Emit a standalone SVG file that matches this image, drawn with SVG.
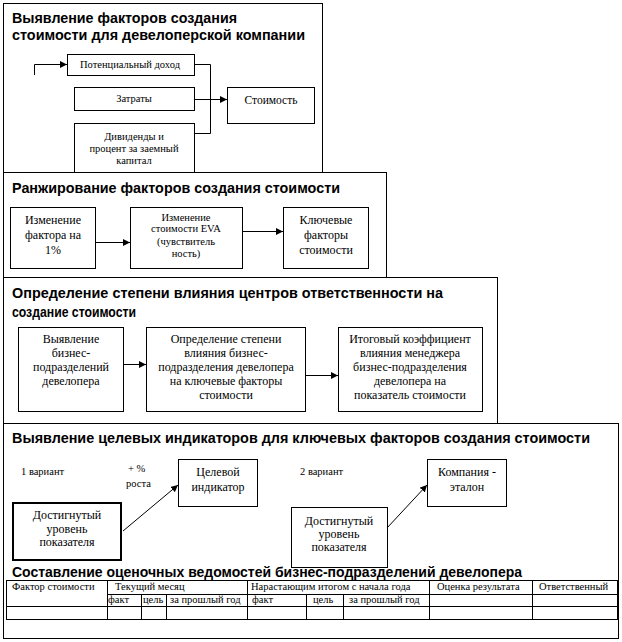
<svg xmlns="http://www.w3.org/2000/svg" width="622" height="642" viewBox="0 0 622 642">
<style>
.fr{fill:#fff;stroke:#000;stroke-width:1}
.bx{fill:#fff;stroke:#000;stroke-width:1}
.ln{fill:none;stroke:#000;stroke-width:1}
.h{font-family:"Liberation Sans","DejaVu Sans",sans-serif;font-weight:bold;font-size:14px;fill:#000}
.t{font-family:"Liberation Serif","DejaVu Serif",serif;font-size:12px;fill:#000;text-anchor:middle}
.s{font-family:"Liberation Serif","DejaVu Serif",serif;font-size:10.5px;fill:#000}
.sm{font-family:"Liberation Serif","DejaVu Serif",serif;font-size:10.5px;fill:#000;text-anchor:middle}
</style>
<defs>
<marker id="ah" markerUnits="userSpaceOnUse" markerWidth="8" markerHeight="7" refX="7" refY="3.5" orient="auto">
<path d="M0,0 L7,3.5 L0,7 z" fill="#000"/>
</marker>
</defs>
<rect width="622" height="642" fill="#fff"/>

<g id="section1">
<rect class="fr" x="3.5" y="3.5" width="319" height="169"/>
<text class="h" x="12" y="23" textLength="225" lengthAdjust="spacingAndGlyphs">Выявление факторов создания</text>
<text class="h" x="12" y="40" textLength="293" lengthAdjust="spacingAndGlyphs">стоимости для девелоперской компании</text>
</g>
<g id="n-potential">
<rect class="bx" x="67.5" y="54.5" width="127" height="21"/>
<text class="sm" x="130" y="68">Потенциальный доход</text>
</g>
<g id="n-costs">
<rect class="bx" x="74.5" y="87.5" width="120" height="23"/>
<text class="sm" x="134" y="102">Затраты</text>
</g>
<g id="n-dividends">
<rect class="bx" x="74.5" y="123.5" width="120" height="52"/>
<text class="sm" x="134" y="140">Дивиденды и</text>
<text class="sm" x="134" y="152">процент за заемный</text>
<text class="sm" x="134" y="164">капитал</text>
</g>
<g id="n-value">
<rect class="bx" x="227.5" y="87.5" width="87" height="36"/>
<text class="t" x="271" y="104" style="font-size:11.5px">Стоимость</text>
</g>

<g id="section2">
<rect class="fr" x="3.5" y="172.5" width="383" height="105"/>
<text class="h" x="12" y="193" textLength="328" lengthAdjust="spacingAndGlyphs">Ранжирование факторов создания стоимости</text>
</g>
<g id="n-change1">
<rect class="bx" x="10.5" y="207.5" width="85" height="61"/>
<text class="t" x="53" y="224">Изменение</text>
<text class="t" x="53" y="239">фактора на</text>
<text class="t" x="53" y="254">1%</text>
</g>
<g id="n-eva">
<rect class="bx" x="130.5" y="207.5" width="112" height="61"/>
<text class="sm" x="186" y="221">Изменение</text>
<text class="sm" x="186" y="232">стоимости EVA</text>
<text class="sm" x="186" y="245">(чувствитель</text>
<text class="sm" x="186" y="257">ность)</text>
</g>
<g id="n-key">
<rect class="bx" x="283.5" y="207.5" width="85" height="61"/>
<text class="t" x="326" y="224">Ключевые</text>
<text class="t" x="326" y="239">факторы</text>
<text class="t" x="326" y="254">стоимости</text>
</g>

<g id="section3">
<rect class="fr" x="3.5" y="277.5" width="494" height="146"/>
<text class="h" x="12" y="298" textLength="431" lengthAdjust="spacingAndGlyphs">Определение степени влияния центров ответственности на</text>
<text class="h" x="12" y="317" textLength="124" lengthAdjust="spacingAndGlyphs">создание стоимости</text>
</g>
<g id="n-identify">
<rect class="bx" x="18.5" y="327.5" width="105" height="84"/>
<text class="t" x="71" y="343">Выявление</text>
<text class="t" x="71" y="357">бизнес-</text>
<text class="t" x="71" y="371">подразделений</text>
<text class="t" x="71" y="385">девелопера</text>
</g>
<g id="n-degree">
<rect class="bx" x="146.5" y="327.5" width="159" height="84"/>
<text class="t" x="226" y="343">Определение степени</text>
<text class="t" x="226" y="357">влияния бизнес-</text>
<text class="t" x="226" y="371">подразделения девелопера</text>
<text class="t" x="226" y="385">на ключевые факторы</text>
<text class="t" x="226" y="399">стоимости</text>
</g>
<g id="n-coef">
<rect class="bx" x="338.5" y="327.5" width="144" height="84"/>
<text class="t" x="410" y="343">Итоговый коэффициент</text>
<text class="t" x="410" y="357">влияния менеджера</text>
<text class="t" x="410" y="371">бизнес-подразделения</text>
<text class="t" x="410" y="385">девелопера  на</text>
<text class="t" x="410" y="399">показатель стоимости</text>
</g>

<g id="section4">
<rect class="fr" x="3.5" y="423.5" width="615" height="215"/>
<text class="h" x="12" y="443" textLength="578" lengthAdjust="spacingAndGlyphs">Выявление целевых индикаторов для ключевых факторов создания стоимости</text>
<text class="s" x="21" y="475">1 вариант</text>
<text class="s" x="128" y="472">+ %</text>
<text class="s" x="126" y="487">роста</text>
<text class="s" x="300" y="475">2 вариант</text>
</g>
<g id="n-target">
<rect class="bx" x="178.5" y="459.5" width="79" height="47"/>
<text class="t" x="218" y="476">Целевой</text>
<text class="t" x="218" y="491">индикатор</text>
</g>
<g id="n-benchmark">
<rect class="bx" x="427.5" y="459.5" width="79" height="47"/>
<text class="t" x="467" y="476">Компания -</text>
<text class="t" x="467" y="491">эталон</text>
</g>
<g id="n-achieved1">
<rect class="bx" x="13" y="503" width="108" height="57" style="stroke-width:2"/>
<text class="t" x="67" y="519">Достигнутый</text>
<text class="t" x="67" y="533">уровень</text>
<text class="t" x="67" y="546">показателя</text>
</g>
<g id="n-achieved2">
<rect class="bx" x="291.5" y="507.5" width="96" height="60"/>
<text class="t" x="339" y="525">Достигнутый</text>
<text class="t" x="339" y="538">уровень</text>
<text class="t" x="339" y="551">показателя</text>
</g>

<g id="connectors">
<path class="ln" d="M34.5,75 V64.5 H67" marker-end="url(#ah)"/>
<path class="ln" d="M194,64.5 H210.5 V133.5 H194"/>
<path class="ln" d="M194,99.5 H227" marker-end="url(#ah)"/>
<path class="ln" d="M95,242.5 H130" marker-end="url(#ah)"/>
<path class="ln" d="M242,231.5 H283" marker-end="url(#ah)"/>
<path class="ln" d="M123,364.5 H146" marker-end="url(#ah)"/>
<path class="ln" d="M305,375.5 H338" marker-end="url(#ah)"/>
<path class="ln" d="M123,531 L178,485" marker-end="url(#ah)"/>
<path class="ln" d="M387,528 L427,485" marker-end="url(#ah)"/>
</g>

<g id="section5">
<text class="h" x="12" y="577" textLength="510" lengthAdjust="spacingAndGlyphs">Составление оценочных ведомостей бизнес-подразделений девелопера</text>
<g id="table">
<rect class="ln" x="6.5" y="580.5" width="611" height="39"/>
<path class="ln" d="M107.5,594.5 H617.5 M6.5,606.5 H617.5 M107.5,580.5 V619.5 M247.5,580.5 V619.5 M429.5,580.5 V619.5 M532.5,580.5 V619.5 M141.5,594.5 V619.5 M166.5,594.5 V619.5 M306.5,594.5 V619.5 M343.5,594.5 V619.5"/>
<text class="s" x="12" y="590">Фактор стоимости</text>
<text class="s" x="115" y="590">Текущий месяц</text>
<text class="s" x="251" y="590">Нарастающим итогом с начала года</text>
<text class="s" x="437" y="590">Оценка результата</text>
<text class="s" x="539" y="590">Ответственный</text>
<text class="s" x="108" y="603">факт</text>
<text class="s" x="143" y="603">цель</text>
<text class="s" x="170" y="603">за прошлый год</text>
<text class="s" x="252" y="603">факт</text>
<text class="s" x="313" y="603">цель</text>
<text class="s" x="349" y="603">за прошлый год</text>
</g>
</g>
</svg>
